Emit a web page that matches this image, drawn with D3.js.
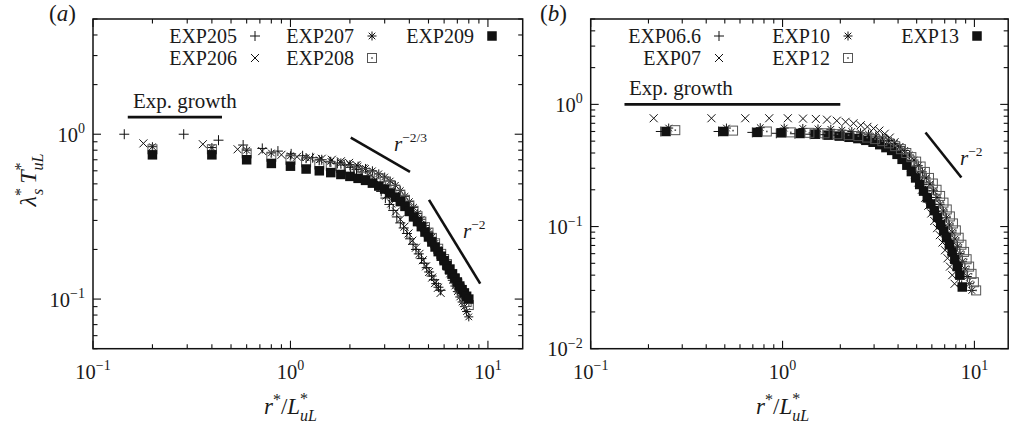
<!DOCTYPE html>
<html>
<head>
<meta charset="utf-8">
<script src="https://cdn.jsdelivr.net/npm/d3@7"></script>
<style>
  body { margin: 0; background: #fff; }
  svg { display: block; }
  text { font-family: "Liberation Serif", "Times New Roman", serif; fill: #1a1a1a; }
</style>
</head>
<body>
<svg id="fig" width="1009" height="426"></svg>
<script>
// ---------- data: panel (a) ----------
const rA205 = [0.144,0.288,0.432,0.576,0.72,0.864,1.008,1.152,1.296,1.44,1.584,1.728,1.872,2.016,2.16,2.304,2.448,2.592,2.736,2.88,3.024,3.168,3.312,3.456,3.6,3.744,3.888,4.032,4.176,4.32,4.464,4.608,4.752,4.896,5.04,5.184,5.328,5.472,5.616,5.76];
const lamA205 = [1.00,1.00,0.92,0.86,0.82,0.79,0.76,0.74,0.72,0.70,0.68,0.665,0.65,0.63,0.61,0.59,0.56,0.53,0.49,0.45,0.41,0.375,0.345,0.315,0.29,0.27,0.25,0.232,0.215,0.20,0.188,0.176,0.165,0.155,0.146,0.138,0.131,0.124,0.118,0.113];

const rA206 = [0.18,0.36,0.54,0.72,0.90,1.08,1.26,1.44,1.62,1.80,1.98,2.16,2.34,2.52,2.70,2.88,3.06,3.24,3.42,3.60,3.78,3.96,4.14,4.32,4.50,4.68,4.86,5.04,5.22,5.40,5.58,5.76];
const lamA206 = [0.88,0.87,0.81,0.79,0.75,0.73,0.72,0.71,0.70,0.685,0.67,0.65,0.62,0.58,0.53,0.475,0.425,0.38,0.34,0.305,0.275,0.25,0.226,0.205,0.188,0.172,0.158,0.146,0.135,0.125,0.117,0.109];

const rA20x = [0.2,0.4,0.6,0.8,1.0,1.2,1.4,1.6,1.8,2.0,2.2,2.4,2.6,2.8,3.0,3.2,3.4,3.6,3.8,4.0,4.2,4.4,4.6,4.8,5.0,5.2,5.4,5.6,5.8,6.0,6.2,6.4,6.6,6.8,7.0,7.2,7.4,7.6,7.8,8.0];
const lamA207 = [0.84,0.83,0.80,0.77,0.74,0.72,0.70,0.685,0.67,0.655,0.64,0.62,0.60,0.575,0.55,0.52,0.49,0.455,0.42,0.39,0.36,0.33,0.305,0.28,0.258,0.237,0.218,0.2,0.184,0.169,0.155,0.142,0.13,0.12,0.111,0.103,0.096,0.09,0.084,0.078];
const lamA208 = [0.81,0.81,0.765,0.73,0.70,0.675,0.655,0.64,0.625,0.61,0.595,0.58,0.56,0.54,0.515,0.49,0.46,0.43,0.40,0.37,0.343,0.318,0.295,0.273,0.253,0.235,0.218,0.202,0.188,0.175,0.163,0.152,0.142,0.133,0.124,0.116,0.109,0.102,0.096,0.092];
const lamA209 = [0.75,0.75,0.70,0.665,0.64,0.615,0.60,0.585,0.57,0.555,0.54,0.525,0.505,0.485,0.465,0.44,0.415,0.39,0.365,0.34,0.315,0.295,0.275,0.255,0.238,0.222,0.207,0.194,0.182,0.171,0.160,0.151,0.142,0.134,0.127,0.120,0.114,0.109,0.104,0.100];

// ---------- data: panel (b) ----------
const rB066 = [0.232,0.464,0.696,0.928,1.16,1.392,1.624,1.856,2.088,2.32,2.552,2.784,3.016,3.248,3.48,3.712,3.944,4.176,4.408,4.64,4.872,5.104,5.336,5.568,5.8,6.032,6.264,6.496,6.728,6.96,7.192,7.424,7.656,7.888,8.12,8.352,8.584];
const lamB066 = [0.60,0.60,0.59,0.58,0.575,0.57,0.565,0.56,0.55,0.54,0.525,0.51,0.495,0.475,0.455,0.43,0.405,0.375,0.345,0.31,0.28,0.25,0.222,0.196,0.173,0.152,0.133,0.117,0.102,0.089,0.078,0.068,0.059,0.051,0.044,0.038,0.033];

const rB07 = [0.213,0.426,0.639,0.852,1.065,1.278,1.491,1.704,1.917,2.13,2.343,2.556,2.769,2.982,3.195,3.408,3.621,3.834,4.047,4.26,4.473,4.686,4.899,5.112,5.325,5.538,5.751,5.964,6.177,6.39,6.603,6.816,7.029,7.242,7.455,7.668,7.881];
const lamB07 = [0.77,0.77,0.77,0.77,0.77,0.765,0.76,0.75,0.735,0.72,0.70,0.675,0.655,0.635,0.61,0.575,0.535,0.49,0.445,0.395,0.35,0.305,0.265,0.23,0.20,0.172,0.148,0.128,0.111,0.097,0.085,0.074,0.064,0.055,0.047,0.040,0.034];

const rB10 = [0.255,0.51,0.765,1.02,1.275,1.53,1.785,2.04,2.295,2.55,2.805,3.06,3.315,3.57,3.825,4.08,4.335,4.59,4.845,5.1,5.355,5.61,5.865,6.12,6.375,6.63,6.885,7.14,7.395,7.65,7.905,8.16,8.415,8.67,8.925,9.18,9.435,9.69];
const lamB10 = [0.64,0.64,0.645,0.64,0.635,0.63,0.625,0.615,0.60,0.585,0.57,0.55,0.53,0.505,0.48,0.45,0.42,0.385,0.35,0.315,0.28,0.25,0.222,0.196,0.173,0.152,0.134,0.118,0.103,0.09,0.079,0.069,0.060,0.052,0.045,0.039,0.034,0.030];

const rB12 = [0.276,0.552,0.828,1.104,1.38,1.656,1.932,2.208,2.484,2.76,3.036,3.312,3.588,3.864,4.14,4.416,4.692,4.968,5.244,5.52,5.796,6.072,6.348,6.624,6.9,7.176,7.452,7.728,8.004,8.28,8.556,8.832,9.108,9.384,9.66,9.936,10.212];
const lamB12 = [0.615,0.61,0.60,0.59,0.585,0.58,0.57,0.56,0.55,0.535,0.52,0.50,0.48,0.455,0.43,0.40,0.37,0.34,0.31,0.28,0.25,0.225,0.20,0.178,0.157,0.138,0.121,0.106,0.093,0.081,0.071,0.062,0.054,0.047,0.041,0.035,0.030];

const rB13 = [0.247,0.494,0.741,0.988,1.235,1.482,1.729,1.976,2.223,2.47,2.717,2.964,3.211,3.458,3.705,3.952,4.199,4.446,4.693,4.94,5.187,5.434,5.681,5.928,6.175,6.422,6.669,6.916,7.163,7.41,7.657,7.904,8.151,8.398,8.645];
const lamB13 = [0.60,0.60,0.59,0.585,0.578,0.57,0.56,0.55,0.538,0.525,0.508,0.49,0.468,0.443,0.42,0.39,0.355,0.318,0.282,0.25,0.221,0.195,0.172,0.153,0.135,0.119,0.104,0.092,0.081,0.071,0.062,0.054,0.047,0.040,0.032];

// ---------- guide lines (r*, value) ----------
const growthA = { r: [0.15, 0.45], v: [1.27, 1.27] };
const slopeA23 = { r: [2.02, 4.03], v: [0.954, 0.591] };
const slopeA2 = { r: [5.03, 9.14], v: [0.40, 0.124] };
const growthB = { r: [0.15, 2.0], v: [1.0, 1.0] };
const slopeB2 = { r: [5.56, 8.55], v: [0.589, 0.252] };

// ---------- tick labels (decade exponents) ----------
const xTickExps = [-1, 0, 1];
const yTickExpsA = [-1, 0];
const yTickExpsB = [-2, -1, 0];

// ---------- legends ----------
const legendNamesA = ["EXP205", "EXP206", "EXP207", "EXP208", "EXP209"];
const legendNamesB = ["EXP06.6", "EXP07", "EXP10", "EXP12", "EXP13"];

const svg = d3.select("#fig");
svg.append("rect").attr("width", 1009).attr("height", 426).attr("fill", "#fff");

const INK = "#111";
const GREY = "#555";

// marker shapes centred on (0,0)
function markerPath(type) {
  const p = d3.path();
  if (type === "plus") {
    p.moveTo(-5, 0); p.lineTo(5, 0); p.moveTo(0, -5); p.lineTo(0, 5);
  } else if (type === "times") {
    p.moveTo(-4, -4); p.lineTo(4, 4); p.moveTo(-4, 4); p.lineTo(4, -4);
  } else if (type === "star") {
    p.moveTo(-4.5, 0); p.lineTo(4.5, 0); p.moveTo(0, -4.5); p.lineTo(0, 4.5);
    p.moveTo(-3.3, -3.3); p.lineTo(3.3, 3.3); p.moveTo(-3.3, 3.3); p.lineTo(3.3, -3.3);
  }
  return p.toString();
}

function drawMarker(g, type, x, y) {
  const t = `translate(${x},${y})`;
  if (type === "fsq") {
    g.append("rect").attr("transform", t).attr("x", -4.75).attr("y", -4.75)
      .attr("width", 9.5).attr("height", 9.5).attr("fill", INK);
  } else if (type === "osq") {
    const m = g.append("g").attr("transform", t);
    m.append("rect").attr("x", -4.5).attr("y", -4.5).attr("width", 9).attr("height", 9)
      .attr("fill", "none").attr("stroke", GREY).attr("stroke-width", 1);
    m.append("rect").attr("x", -0.8).attr("y", -0.8).attr("width", 1.6).attr("height", 1.6)
      .attr("fill", GREY);
  } else {
    g.append("path").attr("transform", t).attr("d", markerPath(type))
      .attr("fill", "none").attr("stroke", INK).attr("stroke-width", 1);
  }
}

// "10" with a superscript exponent
function powerLabel(g, x, y, exp, anchor) {
  const t = g.append("text").attr("x", x).attr("y", y)
    .attr("text-anchor", anchor).style("font-size", "20.5px");
  t.append("tspan").text("10");
  t.append("tspan").attr("dy", -8.5).style("font-size", "14px")
    .text(exp < 0 ? "\u2212" + Math.abs(exp) : String(exp));
}

function slopeLabel(g, x, y, expText) {
  const t = g.append("text").attr("x", x).attr("y", y).style("font-size", "21px");
  t.append("tspan").style("font-style", "italic").text("r");
  t.append("tspan").attr("dy", -9).style("font-size", "13.5px").text(expText);
}

function drawPanel(cfg) {
  const g = svg.append("g");
  const x = d3.scaleLog().domain(cfg.xDom).range([cfg.box.l, cfg.box.r]);
  const y = d3.scaleLog().domain(cfg.yDom).range([cfg.box.b, cfg.box.t]);

  // decade + minor tick values inside the domain
  function tickValues(dom) {
    const out = [];
    for (let e = Math.floor(Math.log10(dom[0])); e <= Math.ceil(Math.log10(dom[1])); e++) {
      for (let m = 1; m <= 9; m++) {
        const v = m * Math.pow(10, e);
        if (v >= dom[0] * 0.999 && v <= dom[1] * 1.001) out.push({ v, major: m === 1 });
      }
    }
    return out;
  }

  const ticks = g.append("g").attr("stroke", INK).attr("stroke-width", 1.1);
  tickValues(cfg.xDom).forEach(t => {
    const px = x(t.v), len = t.major ? 8 : 4.5;
    ticks.append("line").attr("x1", px).attr("x2", px).attr("y1", cfg.box.b).attr("y2", cfg.box.b - len);
    ticks.append("line").attr("x1", px).attr("x2", px).attr("y1", cfg.box.t).attr("y2", cfg.box.t + len);
  });
  tickValues(cfg.yDom).forEach(t => {
    const py = y(t.v), len = t.major ? 8 : 4.5;
    ticks.append("line").attr("x1", cfg.box.l).attr("x2", cfg.box.l + len).attr("y1", py).attr("y2", py);
    ticks.append("line").attr("x1", cfg.box.r).attr("x2", cfg.box.r - len).attr("y1", py).attr("y2", py);
  });

  // frame
  g.append("rect").attr("x", cfg.box.l).attr("y", cfg.box.t)
    .attr("width", cfg.box.r - cfg.box.l).attr("height", cfg.box.b - cfg.box.t)
    .attr("fill", "none").attr("stroke", INK).attr("stroke-width", 1.5);

  // tick labels
  xTickExps.forEach(e => powerLabel(g, x(Math.pow(10, e)), cfg.box.b + 30, e, "middle"));
  cfg.yExps.forEach(e => powerLabel(g, cfg.box.l - 8, y(Math.pow(10, e)) + 7.5, e, "end"));

  // guide lines
  const line = d3.line().x(d => x(d[0])).y(d => y(d[1]));
  cfg.guides.forEach(gd => {
    g.append("path").attr("d", line(d3.zip(gd.r, gd.v)))
      .attr("fill", "none").attr("stroke", INK).attr("stroke-width", gd.w);
  });

  // data markers
  const marks = g.append("g");
  cfg.series.forEach(s => {
    s.r.forEach((rv, i) => drawMarker(marks, s.sym, x(rv), y(s.v[i])));
  });

  // legend
  cfg.legend.forEach(le => {
    const mx = cfg.legendCols[le.col], my = cfg.legendRows[le.row];
    g.append("text").attr("x", mx - 18).attr("y", my + 6.5).attr("text-anchor", "end")
      .style("font-size", "20px").text(le.name);
    drawMarker(g, le.sym, mx, my);
  });

  // "Exp. growth" caption
  g.append("text").attr("x", cfg.growthText[0]).attr("y", cfg.growthText[1])
    .style("font-size", "21px").text("Exp. growth");

  cfg.slopeLabels.forEach(sl => slopeLabel(g, sl.x, sl.y, sl.t));

  // panel tag
  const tag = g.append("text").attr("x", cfg.tag[0]).attr("y", cfg.tag[1]).style("font-size", "23px");
  tag.append("tspan").text("(");
  tag.append("tspan").style("font-style", "italic").text(cfg.tagLetter);
  tag.append("tspan").text(")");

  // x-axis title  r*/L*_uL
  const xt = g.append("text").attr("x", x(1)).attr("y", 414).attr("text-anchor", "middle")
    .style("font-size", "23px");
  xt.append("tspan").style("font-style", "italic").text("r");
  xt.append("tspan").attr("dy", -9).style("font-size", "16px").text("*");
  xt.append("tspan").attr("dy", 9).text("/");
  xt.append("tspan").style("font-style", "italic").text("L");
  xt.append("tspan").attr("dy", -10).style("font-size", "16px").text("*");
  xt.append("tspan").attr("dx", -8).attr("dy", 17).style("font-size", "16px").style("font-style", "italic").text("uL");
}

drawPanel({
  box: { l: 93, r: 522.7, t: 19, b: 348.7 },
  xDom: [0.1, 15], yDom: [0.05, 5], yExps: yTickExpsA,
  guides: [
    { r: growthA.r, v: growthA.v, w: 2.8 },
    { r: slopeA23.r, v: slopeA23.v, w: 2.6 },
    { r: slopeA2.r, v: slopeA2.v, w: 2.6 }
  ],
  series: [
    { r: rA205, v: lamA205, sym: "plus" },
    { r: rA206, v: lamA206, sym: "times" },
    { r: rA20x, v: lamA207, sym: "star" },
    { r: rA20x, v: lamA208, sym: "osq" },
    { r: rA20x, v: lamA209, sym: "fsq" }
  ],
  legend: [
    { name: legendNamesA[0], sym: "plus", col: 0, row: 0 },
    { name: legendNamesA[1], sym: "times", col: 0, row: 1 },
    { name: legendNamesA[2], sym: "star", col: 1, row: 0 },
    { name: legendNamesA[3], sym: "osq", col: 1, row: 1 },
    { name: legendNamesA[4], sym: "fsq", col: 2, row: 0 }
  ],
  legendCols: [255, 372, 492], legendRows: [36, 58],
  growthText: [133, 108],
  slopeLabels: [{ x: 394, y: 151, t: "\u22122/3" }, { x: 463, y: 238, t: "\u22122" }],
  tag: [49, 21], tagLetter: "a"
});

drawPanel({
  box: { l: 590.7, r: 1008.2, t: 19, b: 348.7 },
  xDom: [0.1, 15], yDom: [0.01, 5], yExps: yTickExpsB,
  guides: [
    { r: growthB.r, v: growthB.v, w: 2.8 },
    { r: slopeB2.r, v: slopeB2.v, w: 2.6 }
  ],
  series: [
    { r: rB066, v: lamB066, sym: "plus" },
    { r: rB07, v: lamB07, sym: "times" },
    { r: rB13, v: lamB13, sym: "fsq" },
    { r: rB10, v: lamB10, sym: "star" },
    { r: rB12, v: lamB12, sym: "osq" }
  ],
  legend: [
    { name: legendNamesB[0], sym: "plus", col: 0, row: 0 },
    { name: legendNamesB[1], sym: "times", col: 0, row: 1 },
    { name: legendNamesB[2], sym: "star", col: 1, row: 0 },
    { name: legendNamesB[3], sym: "osq", col: 1, row: 1 },
    { name: legendNamesB[4], sym: "fsq", col: 2, row: 0 }
  ],
  legendCols: [719, 848, 977], legendRows: [36, 58],
  growthText: [629, 95],
  slopeLabels: [{ x: 960, y: 165, t: "\u22122" }],
  tag: [540, 21], tagLetter: "b"
});

// y-axis title  λ*_s T*_uL (left panel only)
const yt = svg.append("text").attr("transform", "translate(36,180) rotate(-90)")
  .attr("text-anchor", "middle").style("font-size", "24px");
yt.append("tspan").style("font-style", "italic").text("\u03bb");
yt.append("tspan").attr("dy", -10).style("font-size", "16px").text("*");
yt.append("tspan").attr("dx", -7).attr("dy", 17).style("font-size", "16px").style("font-style", "italic").text("s");
yt.append("tspan").attr("dx", 5).attr("dy", -7).style("font-style", "italic").text("T");
yt.append("tspan").attr("dy", -10).style("font-size", "16px").text("*");
yt.append("tspan").attr("dx", -8).attr("dy", 17).style("font-size", "16px").style("font-style", "italic").text("uL");
</script>
</body>
</html>
